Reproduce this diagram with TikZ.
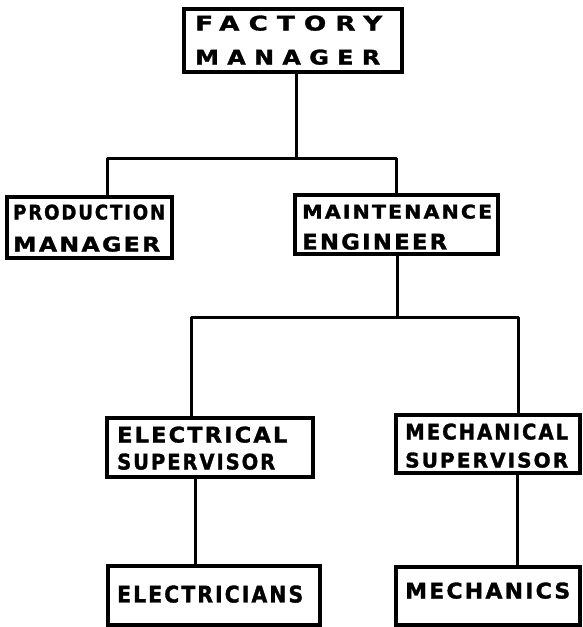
\documentclass[tikz,border=0pt]{standalone}
\usepackage{fontspec}
\usepackage{graphicx}
\newfontfamily\handfont{DejaVu Sans}[LetterSpace=10,FakeBold=1.5]
\newfontfamily\widehand{DejaVu Sans}[LetterSpace=35,FakeBold=1.5]
\newcommand{\lbl}[3]{\resizebox{#1pt}{#2pt}{\handfont\bfseries #3}}
\newcommand{\wlbl}[3]{\resizebox{#1pt}{#2pt}{\widehand\bfseries #3}}
\tikzset{
  box/.style={draw, line width=3.2pt, rectangle, inner sep=0pt},
  lab/.style={anchor=south west, inner sep=0pt},
  conn/.style={line width=3pt, line cap=round, line join=round}
}
\begin{document}
\begin{tikzpicture}[x=1pt,y=-1pt]
\fill[white] (0,0) rectangle (582,627);
\useasboundingbox (0,0) rectangle (582,627);

% boxes
\node[box, minimum width=218pt, minimum height=63pt] (fm) at (293,40.5) {};
\node[box, minimum width=165pt, minimum height=61pt] (pm) at (89.5,227.5) {};
\node[box, minimum width=203pt, minimum height=59pt] (me) at (396.5,224.5) {};
\node[box, minimum width=206pt, minimum height=59pt] (es) at (210,447.5) {};
\node[box, minimum width=184pt, minimum height=58pt] (ms) at (488,444) {};
\node[box, minimum width=212pt, minimum height=59pt] (el) at (214,595.5) {};
\node[box, minimum width=184pt, minimum height=58pt] (mc) at (488,596) {};

% labels
\node[lab] (fm1) at (195,31) {\wlbl{187}{15}{FACTORY}};
\node[lab] (fm2) at (195,65) {\wlbl{185}{15}{MANAGER}};
\node[lab] (pm1) at (13,220) {\lbl{152}{15}{PRODUCTION}};
\node[lab] (pm2) at (13,252) {\lbl{147}{15}{MANAGER}};
\node[lab] (me1) at (302,219) {\lbl{190}{14}{MAINTENANCE}};
\node[lab] (me2) at (302,250) {\lbl{145}{16}{ENGINEER}};
\node[lab] (es1) at (117,443) {\lbl{170}{16}{ELECTRICAL}};
\node[lab] (es2) at (117,470) {\lbl{158}{16}{SUPERVISOR}};
\node[lab] (ms1) at (405,440) {\lbl{163}{16}{MECHANICAL}};
\node[lab] (ms2) at (405,468) {\lbl{163}{15}{SUPERVISOR}};
\node[lab] (el1) at (117,603) {\lbl{186}{17}{ELECTRICIANS}};
\node[lab] (mc1) at (405,599) {\lbl{165}{16}{MECHANICS}};

% junctions
\coordinate (j1) at (296,158);
\coordinate (pmx) at (107,158);
\coordinate (mex) at (396,158);
\coordinate (j2) at (397,317);
\coordinate (esx) at (191,317);
\coordinate (msx) at (518,317);
\coordinate (elx) at (195,0);
\coordinate (mcx) at (517,0);

% connectors
\draw[conn] (fm.south -| j1) -- (j1);
\draw[conn] (pm.north -| pmx) -- (pmx) -- (mex) -- (me.north -| mex);
\draw[conn] (me.south -| j2) -- (j2);
\draw[conn] (es.north -| esx) -- (esx) -- (msx) -- (ms.north -| msx);
\draw[conn] (es.south -| elx) -- (el.north -| elx);
\draw[conn] (ms.south -| mcx) -- (mc.north -| mcx);
\end{tikzpicture}
\end{document}
